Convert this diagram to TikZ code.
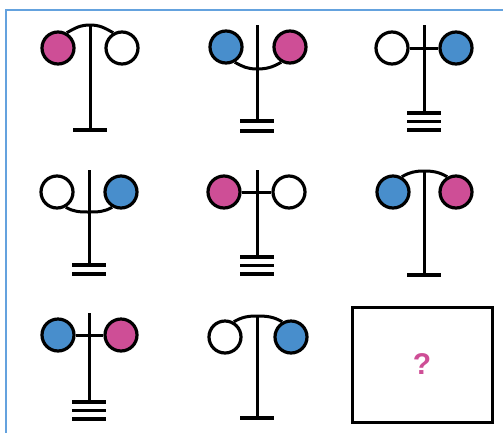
\documentclass[tikz,border=0pt]{standalone}
\usepackage{fontspec}
\setmainfont{Liberation Sans}
\definecolor{pinkc}{RGB}{206,78,150}
\definecolor{bluec}{RGB}{72,142,204}
\definecolor{framec}{RGB}{100,162,222}
\tikzset{
  ball/.style={circle, draw=black, line width=3.2pt, minimum size=32pt, inner sep=0pt},
  pinkball/.style={ball, fill=pinkc},
  blueball/.style={ball, fill=bluec},
  whiteball/.style={ball, fill=white},
  stroke/.style={line width=3pt},
  bar/.style={line width=3.4pt},
}
\begin{document}
\begin{tikzpicture}[x=1pt,y=-1pt]
\useasboundingbox (0,0) rectangle (503,432);
\fill[white] (0,0) rectangle (503,432);
\draw[framec, line width=2.6pt] (6,10) rectangle (530,460);

% cell 1: arc above, pink/white, single bar
\node[pinkball] (l1) at (58,48) {};
\node[whiteball] (r1) at (122,48) {};
\coordinate (t1) at (90,25);
\coordinate (b1) at (90,130);
\draw[stroke] (l1.60) to[out=30,in=180] (t1) to[out=0,in=150] (r1.120);
\draw[stroke] (t1) -- (b1);
\draw[bar] (b1) ++(-17,0) -- ++(34,0);

% cell 2: arc below, blue/pink, double bar
\node[blueball] (l2) at (226,47) {};
\node[pinkball] (r2) at (290,47) {};
\coordinate (t2) at (257,25);
\coordinate (m2) at (257,69);
\coordinate (b2) at (257,121);
\draw[stroke] (l2.-60) to[out=-30,in=180] (m2) to[out=0,in=-150] (r2.-120);
\draw[stroke] (t2) -- (b2);
\draw[bar] (b2) ++(-17,0) -- ++(34,0);
\draw[bar] (b2) ++(-17,10) -- ++(34,0);

% cell 3: horizontal, white/blue, triple bar
\node[whiteball] (l3) at (392,48) {};
\node[blueball] (r3) at (456,48) {};
\coordinate (t3) at (424,25);
\coordinate (b3) at (424,113);
\draw[stroke] (l3.east) -- (r3.west);
\draw[stroke] (t3) -- (b3);
\draw[bar] (b3) ++(-17,0) -- ++(34,0);
\draw[bar] (b3) ++(-17,8.5) -- ++(34,0);
\draw[bar] (b3) ++(-17,17) -- ++(34,0);

% cell 4: arc below, white/blue, double bar
\node[whiteball] (l4) at (57,192) {};
\node[blueball] (r4) at (121,192) {};
\coordinate (t4) at (89,170);
\coordinate (m4) at (89,212);
\coordinate (b4) at (89,265);
\draw[stroke] (l4.-60) to[out=-30,in=180] (m4) to[out=0,in=-150] (r4.-120);
\draw[stroke] (t4) -- (b4);
\draw[bar] (b4) ++(-17,0) -- ++(34,0);
\draw[bar] (b4) ++(-17,9) -- ++(34,0);

% cell 5: horizontal, pink/white, triple bar
\node[pinkball] (l5) at (224,192) {};
\node[whiteball] (r5) at (289,192) {};
\coordinate (t5) at (257,170);
\coordinate (b5) at (257,257);
\draw[stroke] (l5.east) -- (r5.west);
\draw[stroke] (t5) -- (b5);
\draw[bar] (b5) ++(-17,0) -- ++(34,0);
\draw[bar] (b5) ++(-17,8.5) -- ++(34,0);
\draw[bar] (b5) ++(-17,17) -- ++(34,0);

% cell 6: arc above, blue/pink, single bar
\node[blueball] (l6) at (393,192) {};
\node[pinkball] (r6) at (456,192) {};
\coordinate (t6) at (424,171);
\coordinate (b6) at (424,275);
\draw[stroke] (l6.60) to[out=30,in=180] (t6) to[out=0,in=150] (r6.120);
\draw[stroke] (t6) -- (b6);
\draw[bar] (b6) ++(-17,0) -- ++(34,0);

% cell 7: horizontal, blue/pink, triple bar
\node[blueball] (l7) at (58,335) {};
\node[pinkball] (r7) at (121,335) {};
\coordinate (t7) at (89,313);
\coordinate (b7) at (89,402);
\draw[stroke] (l7.east) -- (r7.west);
\draw[stroke] (t7) -- (b7);
\draw[bar] (b7) ++(-17,0) -- ++(34,0);
\draw[bar] (b7) ++(-17,8.5) -- ++(34,0);
\draw[bar] (b7) ++(-17,17) -- ++(34,0);

% cell 8: arc above, white/blue, single bar
\node[whiteball] (l8) at (225,337) {};
\node[blueball] (r8) at (291,337) {};
\coordinate (t8) at (257,316);
\coordinate (b8) at (257,418);
\draw[stroke] (l8.60) to[out=30,in=180] (t8) to[out=0,in=150] (r8.120);
\draw[stroke] (t8) -- (b8);
\draw[bar] (b8) ++(-17,0) -- ++(34,0);

% cell 9: answer box
\node[draw=black, line width=3pt, minimum width=140pt, minimum height=115pt, inner sep=0pt] (q) at (422,364.5) {};
\node[text=pinkc, font=\fontsize{30}{32}\selectfont\bfseries] (qm) at (q.center) {?};
\end{tikzpicture}
\end{document}
